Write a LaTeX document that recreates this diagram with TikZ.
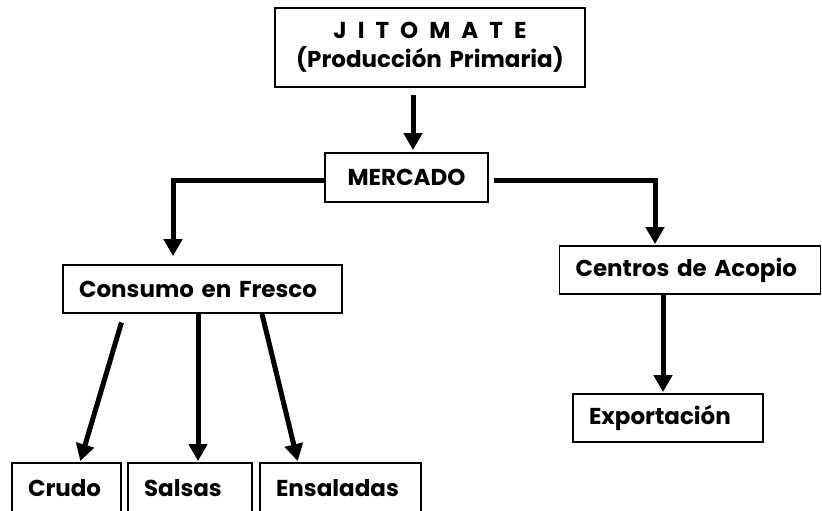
\documentclass[tikz,border=0pt]{standalone}
\usepackage{fontspec}
\setmainfont{Poppins}
\usetikzlibrary{arrows.meta}

\tikzset{
  box/.style={draw, rectangle, line width=1.8pt, inner xsep=16pt, inner ysep=0pt,
    align=left, font=\fontsize{23}{29}\selectfont\bfseries},
  arr/.style={line width=5pt, -{Triangle[length=17pt,width=18pt]}}
}

\begin{document}
\begin{tikzpicture}[x=1pt, y=-1pt]

			\useasboundingbox (0,0) rectangle (822,511);

			%Blocks of the chain
			\node (jitomate) at (430,47.5) [box, align=center, text width=278pt, minimum height=79pt]
			{J\hspace{0.48em}I\hspace{0.48em}T\hspace{0.48em}O\hspace{0.48em}M\hspace{0.48em}A\hspace{0.48em}T\hspace{0.48em}E\\(Producción Primaria)};
			\node (mercado) at (406.5,177.5) [box, align=center, text width=131pt, minimum height=49pt]{MERCADO};
			\node (consumo) at (202.5,289) [box, text width=247pt, minimum height=48pt]{Consumo en Fresco};
			\node (centros) at (690,270) [box, text width=229pt, minimum height=48pt]{Centros de Acopio};
			\node (exportacion) at (668,418) [box, text width=158pt, minimum height=48pt]{Exportación};

			%Products
			\node (crudo) at (66.5,488) [box, text width=77pt, minimum height=50pt]{Crudo};
			\node (salsas) at (190,488) [box, text width=92pt, minimum height=50pt]{Salsas};
			\node (ensaladas) at (340.5,488) [box, text width=129pt, minimum height=50pt]{Ensaladas};

			%Links
			\draw[arr, shorten <=7pt, shorten >=2pt] ([xshift=-17pt]jitomate.south) -- ([xshift=6.5pt]mercado.north);
			\draw[arr, shorten >=8pt] ([yshift=-2.5pt]mercado.west) -| ([xshift=-29.5pt]consumo.north);
			\draw[arr, shorten <=5pt, shorten >=1pt] ([yshift=-2.5pt]mercado.east) -| ([xshift=-35pt]centros.north);
			\draw[arr, shorten >=1pt] ([xshift=-27pt]centros.south) -- ([xshift=-5pt]exportacion.north);
			\draw[arr, shorten <=9pt, shorten >=1pt] ([xshift=-78.5pt]consumo.south) -- ([xshift=13.5pt]crudo.north);
			\draw[arr, shorten >=1pt] ([xshift=-4.5pt]consumo.south) -- ([xshift=8pt]salsas.north);
			\draw[arr, shorten >=1pt] ([xshift=59.5pt]consumo.south) -- ([xshift=-42.5pt]ensaladas.north);

\end{tikzpicture}
\end{document}
